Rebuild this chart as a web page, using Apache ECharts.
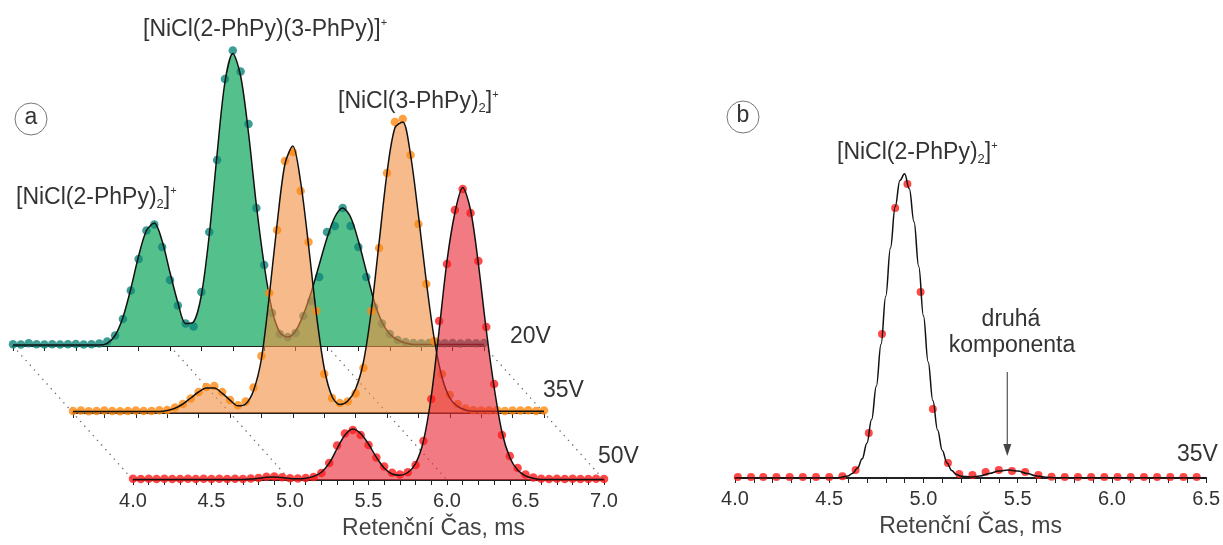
<!DOCTYPE html>
<html>
<head>
<meta charset="utf-8">
<script src="https://cdn.jsdelivr.net/npm/echarts/dist/echarts.min.js"></script>
<style>
  html, body { margin: 0; padding: 0; background: #fff; }
  #main { width: 1223px; height: 545px; }
</style>
</head>
<body>
<div id="main"></div>
<script>
// retention time grid of panel a (ms)
const timeA = [4.00, 4.05, 4.10, 4.15, 4.20, 4.25, 4.30, 4.35, 4.40, 4.45, 4.50, 4.55,
  4.60, 4.65, 4.70, 4.75, 4.80, 4.85, 4.90, 4.95, 5.00, 5.05, 5.10, 5.15, 5.20, 5.25,
  5.30, 5.35, 5.40, 5.45, 5.50, 5.55, 5.60, 5.65, 5.70, 5.75, 5.80, 5.85, 5.90, 5.95,
  6.00, 6.05, 6.10, 6.15, 6.20, 6.25, 6.30, 6.35, 6.40, 6.45, 6.50, 6.55, 6.60, 6.65,
  6.70, 6.75, 6.80, 6.85, 6.90, 6.95, 7.00];

// 20V
const dots20V = [0.6, 0.5, 0.9, 0.6, 0.5, 0.6, 0.5, 0.6, 0.7, 0.5, 0.6, 0.8,
  1.5, 3.5, 9, 18.5, 29, 38.5, 40.5, 33, 22, 13.5, 7.5, 6.5, 18, 38,
  62, 89, 98.5, 91.5, 74, 46, 27, 11, 4, 3, 4.3, 10, 15, 23,
  38, 40, 46, 40, 33, 23, 13, 7.5, 4, 2, 1.3, 1, 0.9, 1.0,
  1.1, 0.9, 1.0, 0.8, 1.0, 0.9, 1.0];
const fit20V = [0.3, 0.3, 0.3, 0.3, 0.3, 0.3, 0.3, 0.3, 0.3, 0.3, 0.3, 0.3,
  0.9, 3.5, 9.5, 19, 30, 38.5, 41, 35, 24.5, 14.5, 7.5, 8, 17, 37,
  64, 88, 97.5, 90, 71, 47, 27, 12, 4.5, 3, 5, 10.5, 18, 27,
  36, 43, 46, 43, 35, 25, 15, 8, 4, 2, 1, 0.5, 0.5, 0.5,
  0.5, 0.5, 0.5, 0.5, 0.5, 0.5, 0.5];

// 35V
const dots35V = [0.7, 0.8, 0.6, 0.7, 0.8, 0.7, 0.6, 0.7, 0.8, 0.7, 0.7, 0.9,
  1, 1.8, 3, 4.8, 7, 8.7, 9, 7, 4.3, 2.6, 3.8, 8.5, 19, 40,
  61, 84, 87, 74, 57, 34, 13, 5, 3.3, 3.8, 6.5, 15, 34, 55,
  80, 97, 98, 86, 63, 43, 24, 13, 6, 3, 1.5, 0.9, 0.8, 0.8,
  0.9, 0.7, 0.8, 0.8, 0.9, 0.7, 0.8];
const fit35V = [0.5, 0.5, 0.5, 0.5, 0.5, 0.5, 0.5, 0.5, 0.5, 0.5, 0.5, 0.5,
  0.8, 1.6, 3, 5, 7, 8.3, 8.3, 6.6, 4.3, 2.4, 3, 7.5, 18, 39,
  63, 83, 89, 77, 56, 33, 15, 5.5, 2.8, 4, 8, 17, 34, 57,
  80, 95, 97, 86, 66, 44, 25, 12, 5, 2.2, 1, 0.6, 0.6, 0.6,
  0.6, 0.6, 0.6, 0.6, 0.6, 0.6, 0.6];

// 50V
const dots50V = [0.4, 0.3, 0.4, 0.3, 0.4, 0.3, 0.3, 0.4, 0.3, 0.4, 0.3, 0.4,
  0.3, 0.4, 0.3, 0.5, 0.7, 1.1, 1.2, 0.9, 0.6, 0.5, 0.7, 1, 2.3, 5.7,
  11.5, 15.5, 16.7, 15, 11.7, 7.5, 4.5, 2.4, 1.8, 2.6, 5, 13, 27, 53,
  72, 90, 97, 89, 73, 51, 32, 15, 8, 4, 1.8, 0.8, 0.4, 0.3,
  0.4, 0.3, 0.4, 0.3, 0.3, 0.4, 0.3];
const fit50V = [0.2, 0.2, 0.2, 0.2, 0.2, 0.2, 0.2, 0.2, 0.2, 0.2, 0.2, 0.2,
  0.2, 0.2, 0.2, 0.3, 0.6, 0.9, 1, 0.8, 0.5, 0.4, 0.6, 1.2, 2.6, 5.6,
  10.5, 15, 17, 15.5, 12, 7.6, 4, 2, 1.6, 2.5, 5.5, 13, 28, 50,
  73, 89, 97.5, 90, 72, 50, 31, 16, 7.5, 3.3, 1.4, 0.6, 0.2, 0.2,
  0.2, 0.2, 0.2, 0.2, 0.2, 0.2, 0.2];

// panel b, 35V
const timeB = [4.015, 4.085, 4.15, 4.22, 4.29, 4.36, 4.43, 4.50, 4.57, 4.64, 4.71, 4.78,
  4.85, 4.915, 4.985, 5.05, 5.13, 5.19, 5.26, 5.33, 5.40, 5.47, 5.54, 5.61, 5.68,
  5.75, 5.82, 5.89, 5.96, 6.03, 6.10, 6.17, 6.24, 6.31, 6.38, 6.45];
const dotsB = [0.3, 0.3, 0.3, 0.3, 0.3, 0.3, 0.3, 0.3, 0.6, 2.7, 15, 48,
  90, 98, 62, 23, 5, 1.3, 1, 2, 2.7, 2.3, 2, 1, 0.4,
  0.3, 0.3, 0.3, 0.3, 0.3, 0.3, 0.3, 0.3, 0.3, 0.3, 0.3];
const fitTimeB = [4.00, 4.50, 4.55, 4.60, 4.625, 4.65, 4.675, 4.70, 4.725, 4.75, 4.775,
  4.80, 4.825, 4.85, 4.875, 4.90, 4.925, 4.95, 4.975, 5.00, 5.025, 5.05, 5.075, 5.10,
  5.125, 5.15, 5.175, 5.20, 5.25, 5.30, 5.35, 5.40, 5.45, 5.50, 5.55, 5.60, 5.65, 5.70, 6.50];
const fitB = [0, 0, 0.1, 0.7, 1.6, 3.3, 6.4, 11.6, 19.5, 30.6, 44.6,
  60.6, 76.7, 90.4, 99.2, 101.4, 96.4, 85.4, 70.5, 54.1, 38.7, 25.8, 16, 9.2,
  5, 2.5, 1.2, 0.6, 0.35, 0.7, 1.5, 2.3, 2.7, 2.3, 1.5, 0.7, 0.25, 0.1, 0];

const guideTimes = [4, 5, 6, 7];   // dotted lines joining the stacked axes
const arrowTime = 5.445;           // "druhá komponenta"

const pair = (xs, ys) => xs.map((x, i) => [x, ys[i]]);
const font = '"Liberation Sans", Arial, sans-serif';
const ink = '#333';

var myChart = echarts.init(document.getElementById('main'));

// only every 0.5 ms gets a number
const halfLabel = function (v) {
  return Math.abs(v * 2 - Math.round(v * 2)) < 1e-6 ? v.toFixed(1) : '';
};

function timeAxis(grid, max, step, z, labels) {
  return {
    type: 'value', gridIndex: grid, min: 4, max: max, interval: step, z: z,
    axisLine: { show: true, onZero: false, lineStyle: { color: '#222', width: 2 } },
    axisTick: { show: true, length: 5, lineStyle: { color: '#222', width: 1 } },
    axisLabel: { show: labels, formatter: halfLabel, fontSize: 20, fontFamily: font, color: ink, margin: 11 },
    splitLine: { show: false },
    nameTextStyle: { fontSize: 23, fontFamily: font, color: '#444' }
  };
}

const xAxes = [
  timeAxis(0, 7, 0.2, 1, false),
  timeAxis(1, 7, 0.2, 11, false),
  Object.assign(timeAxis(2, 7, 0.1, 21, true), { name: 'Retenční Čas, ms', nameLocation: 'middle', nameGap: 37 }),
  Object.assign(timeAxis(3, 6.5, 0.1, 1, true), { name: 'Retenční Čas, ms', nameLocation: 'middle', nameGap: 37 })
];
xAxes[2].nameTextStyle.padding = [0, 0, 0, 130];

const yAxes = [0, 1, 2, 3].map(i => ({ type: 'value', gridIndex: i, min: 0, max: 110, show: false }));

const traces = [
  { dots: dots20V, fit: fit20V, fill: 'rgb(84,192,139)', dot: '#0e8479' },
  { dots: dots35V, fit: fit35V, fill: 'rgba(242,142,62,0.6)', dot: '#ff8a10' },
  { dots: dots50V, fit: fit50V, fill: 'rgba(232,40,55,0.62)', dot: '#ff1a1a' }
];

let series = [];
traces.forEach((t, i) => {
  const z = 2 + i * 10;
  series.push({
    type: 'line', xAxisIndex: i, yAxisIndex: i, data: pair(timeA, t.fit),
    smooth: 0.3, symbol: 'none', lineStyle: { opacity: 0 },
    areaStyle: { color: t.fill, opacity: 1 }, z: z, silent: true
  });
  series.push({
    type: 'scatter', xAxisIndex: i, yAxisIndex: i, data: pair(timeA, t.dots),
    symbolSize: 8.5, itemStyle: { color: t.dot }, z: z + 1
  });
  series.push({
    type: 'line', xAxisIndex: i, yAxisIndex: i, data: pair(timeA, t.fit),
    smooth: 0.3, symbol: 'none', lineStyle: { color: '#111', width: 1.5 }, z: z + 2
  });
});
series.push({
  type: 'scatter', xAxisIndex: 3, yAxisIndex: 3, data: pair(timeB, dotsB),
  symbolSize: 8, itemStyle: { color: '#ff1a1a' }, z: 3
});
series.push({
  type: 'line', xAxisIndex: 3, yAxisIndex: 3, data: pair(fitTimeB, fitB),
  smooth: 0.4, smoothMonotone: 'x', symbol: 'none', lineStyle: { color: '#111', width: 1.5 }, z: 4
});

const rich = {
  s: { fontSize: 13, lineHeight: 14, verticalAlign: 'bottom', fontFamily: font, fill: ink },
  p: { fontSize: 11, lineHeight: 14, verticalAlign: 'top', fontFamily: font, fill: ink }
};
function label(id, x, y, text, align) {
  return {
    type: 'text', id: id, x: x, y: y, z: 100, silent: true,
    style: { text: text, rich: rich, fontSize: 23, lineHeight: 26, fontFamily: font, fill: ink,
             align: align || 'left', verticalAlign: 'middle' }
  };
}
function badge(id, cx, cy, letter) {
  return [
    { type: 'circle', id: id + 'c', z: 100, shape: { cx: cx, cy: cy, r: 16 },
      style: { fill: 'none', stroke: '#777', lineWidth: 1 } },
    label(id + 't', cx, cy - 1, letter, 'center')
  ];
}

myChart.setOption({
  animation: false,
  grid: [
    { left: 13, top: 16, width: 471, height: 330 },
    { left: 73, top: 83, width: 471, height: 330 },
    { left: 133, top: 150, width: 471, height: 330 },
    { left: 735, top: 148, width: 472, height: 330 }
  ],
  xAxis: xAxes,
  yAxis: yAxes,
  series: series,
  graphic: {
    elements: [
      ...badge('ba', 31, 119, 'a'),
      ...badge('bb', 743, 117, 'b'),
      label('l1', 16, 198, '[NiCl(2-PhPy){s|2}]{p|+}'),
      label('l2', 143, 30, '[NiCl(2-PhPy)(3-PhPy)]{p|+}'),
      label('l3', 338, 102, '[NiCl(3-PhPy){s|2}]{p|+}'),
      label('l4', 837, 153, '[NiCl(2-PhPy){s|2}]{p|+}'),
      label('v20', 510, 337, '20V'),
      label('v35', 543, 391, '35V'),
      label('v50', 598, 457, '50V'),
      label('v35b', 1177, 455, '35V'),
      label('k1', 1011, 320, 'druhá', 'center'),
      label('k2', 1012, 346, 'komponenta', 'center')
    ]
  }
});

// dotted guides through the same time on the three stacked axes, and the arrow in b
const guides = guideTimes.map((v, k) => {
  const a = myChart.convertToPixel({ gridIndex: 0 }, [v, 0]);
  const b = myChart.convertToPixel({ gridIndex: 2 }, [v, 0]);
  return {
    type: 'line', id: 'g' + k, z: 0, silent: true,
    shape: { x1: a[0], y1: a[1], x2: b[0], y2: b[1] },
    style: { stroke: '#666', lineWidth: 1.3, lineDash: [1.3, 5] }
  };
});
const ax = myChart.convertToPixel({ gridIndex: 3 }, [arrowTime, 0])[0];
myChart.setOption({
  graphic: {
    elements: guides.concat([
      { type: 'line', id: 'arr', z: 100, shape: { x1: ax, y1: 372, x2: ax, y2: 447 },
        style: { stroke: '#555', lineWidth: 1.2 } },
      { type: 'polygon', id: 'arrh', z: 100, shape: { points: [[ax - 4, 444], [ax + 4, 444], [ax, 456]] },
        style: { fill: '#444' } }
    ])
  }
});
</script>
</body>
</html>
